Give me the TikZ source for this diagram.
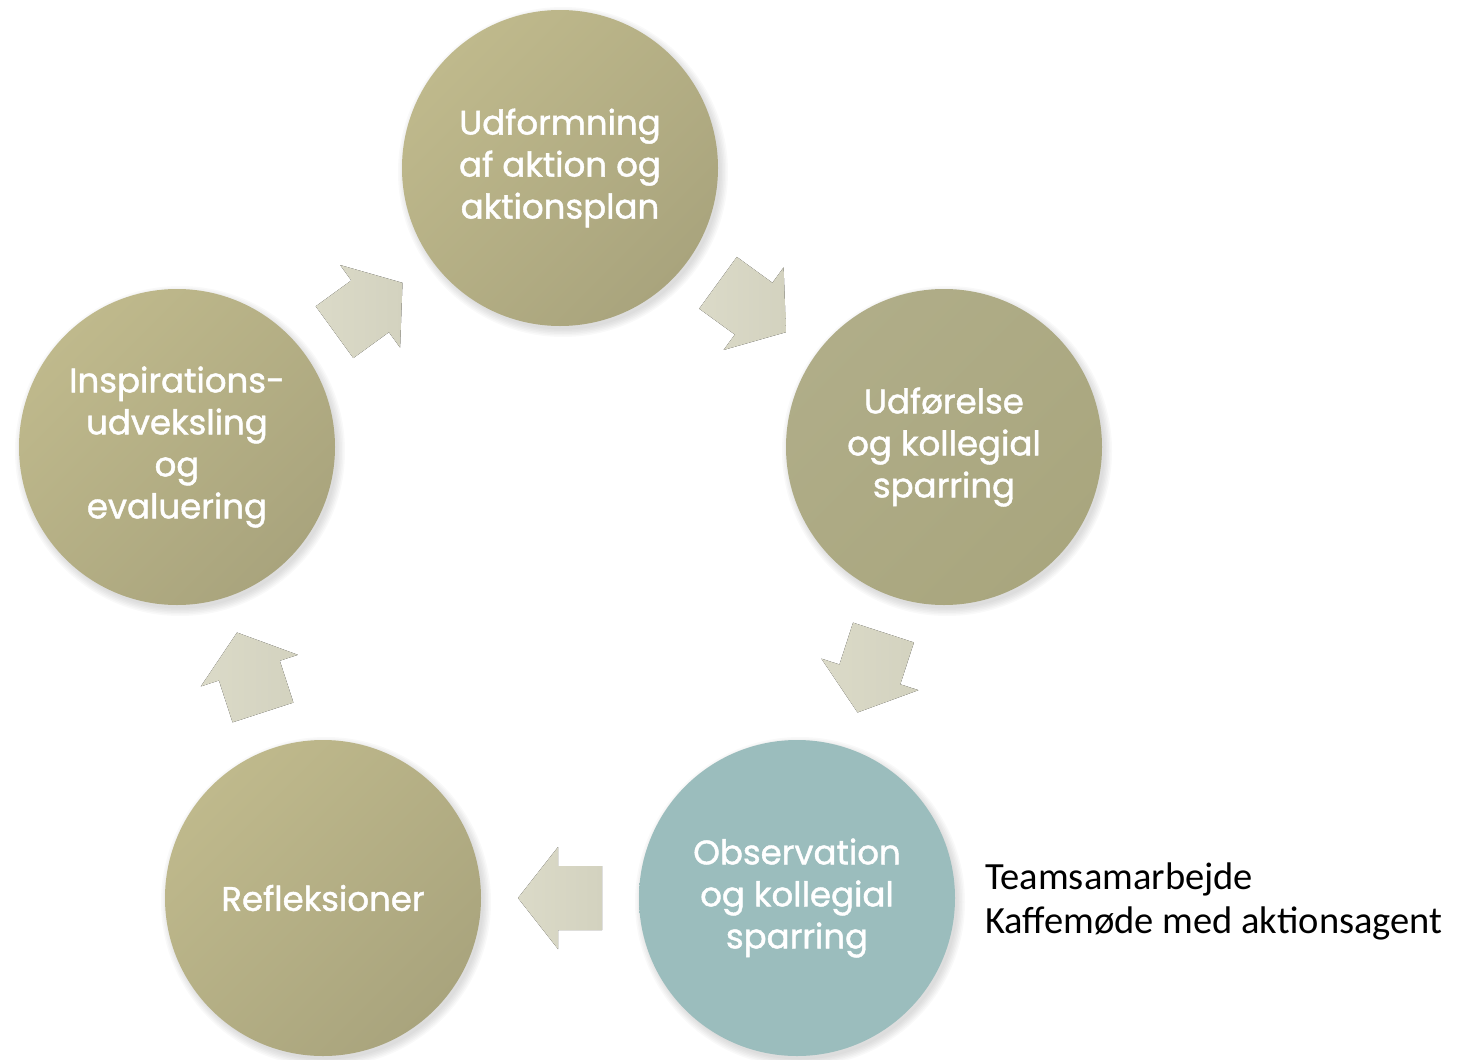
\documentclass[tikz,border=0pt]{standalone}
\usepackage{fontspec}
\setmainfont{Poppins}[BoldFont=Poppins, BoldFeatures={FakeBold=1.3}]
\newfontfamily\calib{Carlito}
\usetikzlibrary{calc}
\definecolor{oliveA}{HTML}{BFB98C}
\definecolor{oliveB}{HTML}{A9A47D}
\definecolor{oliveR}{HTML}{A9A67E}
\definecolor{tealC}{HTML}{9BBDBD}
\definecolor{arrowA}{HTML}{DBDAC8}
\definecolor{arrowB}{HTML}{D3D2BF}
\tikzset{
  phase/.style={circle, minimum size=316pt, inner sep=0pt, align=center,
    text=white, font=\bfseries\fontsize{34}{42}\selectfont,
    shading=axis, left color=oliveA, right color=oliveB, shading angle=45},
  phaseflat/.style={phase, shading=axis, left color=oliveR!92!white, right color=oliveR, shading angle=45},
  phaseteal/.style={phase, shading=axis, left color=tealC, right color=tealC},
  blockarrow/.style={shading=axis, left color=arrowA, right color=arrowB, draw=none},
  note/.style={anchor=base west, align=left, inner sep=0pt,
    font=\calib\fontsize{38.5}{44}\selectfont, text=black}
}
\newcommand{\softshadow}[1]{%
  \foreach \k in {1,...,6}{\fill[black, opacity=0.025] ($(#1)+(3,4)$) circle ({156+1.5*\k});}}
\newcommand{\cyclearrow}[2]{%
  \fill[blockarrow, shift={(#1)}, rotate=#2]
    (42,0) -- (2,51) -- (2,32) -- (-42,32) -- (-42,-32) -- (2,-32) -- (2,-51) -- cycle;}
\begin{document}
\begin{tikzpicture}[x=1pt,y=-1pt]
\useasboundingbox (0,0) rectangle (1459,1060);
\coordinate (ctop) at (560,168);
\coordinate (cright) at (944,447);
\coordinate (cbr) at (797,898);
\coordinate (cbl) at (323,898);
\coordinate (cleft) at (177,447);
\softshadow{ctop}\softshadow{cright}\softshadow{cbr}\softshadow{cbl}\softshadow{cleft}
\node[phase] (top) at (ctop) {Udformning\\af aktion og\\aktionsplan};
\node[phaseflat] (right) at (cright) {Udførelse\\og kollegial\\sparring};
\node[phaseteal] (br) at (cbr) {Observation\\og kollegial\\sparring};
\node[phase] (bl) at (cbl) {Refleksioner};
\node[phase] (left) at (cleft) {Inspirations-\\udveksling\\og\\evaluering};
\coordinate (a1) at ($(top)!0.5!(right)$);
\coordinate (a2) at ($(right)!0.5!(br)$);
\coordinate (a3) at ($(br)!0.5!(bl)$);
\coordinate (a4) at ($(bl)!0.5!(left)$);
\coordinate (a5) at ($(left)!0.5!(top)$);
\cyclearrow{a1}{-36}
\cyclearrow{a2}{-108}
\cyclearrow{a3}{180}
\cyclearrow{a4}{108}
\cyclearrow{a5}{36}
\node[note] (notes) at (985,933) {Teamsamarbejde\\Kaffemøde med aktionsagent};
\end{tikzpicture}
\end{document}
